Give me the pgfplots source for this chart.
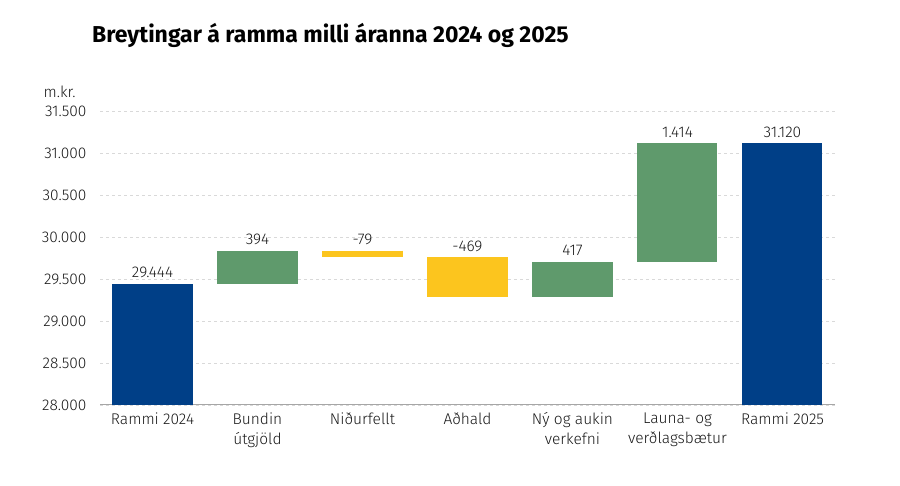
\documentclass[border=0pt]{standalone}
\usepackage{fontspec}
\setmainfont{Fira Sans Light}[BoldFont={Fira Sans Bold}]
\usepackage{pgfplots}
\pgfplotsset{compat=1.18}
\definecolor{rblue}{HTML}{003F87}
\definecolor{rgreen}{HTML}{5F9A6C}
\definecolor{ryellow}{HTML}{FCC51E}
\begin{document}
\begin{tikzpicture}
\useasboundingbox (0,0) rectangle (900pt,485pt);
\node[anchor=base west, inner sep=0pt, font=\bfseries\fontsize{23}{26}\selectfont] at (92pt,442pt) {Breytingar á ramma milli áranna 2024 og 2025};
\begin{axis}[
  name=ax,
  at={(100pt,80pt)}, anchor=south west,
  scale only axis, width=735pt, height=294pt,
  xmin=-0.5, xmax=6.5, ymin=28000, ymax=31500,
  xtick={0,1,2,3,4,5,6},
  xticklabels={Rammi 2024,{Bundin\\útgjöld},Niðurfellt,Aðhald,{Ný og aukin\\verkefni},{Launa- og\\verðlagsbætur},Rammi 2025},
  xticklabel style={align=center, font=\fontsize{15.5}{20}\selectfont, text=black!90, yshift=-4pt},
  ytick={28000,28500,...,31500},
  scaled y ticks=false,
  yticklabel style={font=\fontsize{15.5}{18}\selectfont, text=black!90, xshift=-10pt,
    /pgf/number format/.cd, fixed, precision=0, 1000 sep={.}, assume math mode=true},
  axis x line*=bottom, axis y line*=left,
  y axis line style={draw=none},
  x axis line style={draw=gray!70, line width=1pt, -},
  major tick length=0pt,
  ymajorgrids, grid style={gray!30, dash pattern=on 3pt off 3pt, line width=0.8pt},
  unbounded coords=jump,
]
% blue totals (bar from 0 to value)
\addplot[rblue, line width=80pt, line cap=butt, mark=none] coordinates {(0,0) (0,29444) (3,nan) (6,0) (6,31120)};
% green increases
\addplot[rgreen, line width=80pt, line cap=butt, mark=none] coordinates {(1,29444) (1,29838) (3,nan) (4,29290) (4,29707) (3,nan) (5,29707) (5,31121)};
% yellow decreases
\addplot[ryellow, line width=80pt, line cap=butt, mark=none] coordinates {(2,29838) (2,29759) (3,nan) (3,29759) (3,29290)};
% labels
\addplot[draw=none, mark=none, point meta=explicit symbolic, nodes near coords, nodes near coords align=vertical,
  every node near coord/.append style={font=\fontsize{15.5}{18}\selectfont, text=black!90, anchor=south, yshift=2pt}]
  coordinates {(0,29444) [29.444] (1,29838) [394] (2,29838) [-79] (3,29759) [-469] (4,29707) [417] (5,31121) [1.414] (6,31120) [31.120]};
\end{axis}
\node[anchor=east, text=black!90, font=\fontsize{15.5}{18}\selectfont] at ([xshift=-21pt, yshift=19pt]ax.north west) {m.kr.};
\end{tikzpicture}
\end{document}
